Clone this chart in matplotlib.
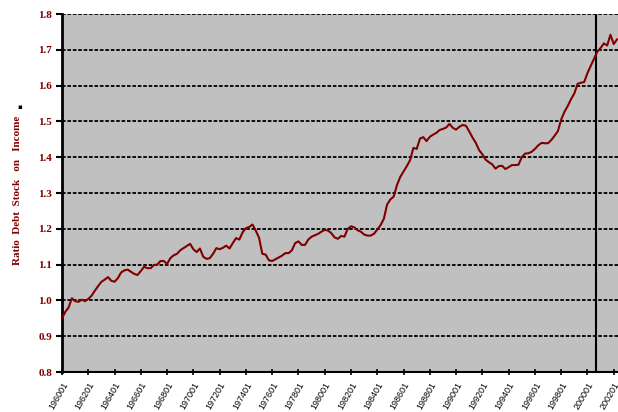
import numpy as np
import matplotlib
matplotlib.use("Agg")
import matplotlib.pyplot as plt

# quarterly ratio, 1960Q1 .. 2002Q2
ratio = [
    0.950, 0.968, 0.980, 1.006,   # 1960
    0.998, 0.996, 1.002, 0.998,   # 1961
    1.004, 1.013, 1.027, 1.040,   # 1962
    1.052, 1.058, 1.065, 1.055,   # 1963
    1.052, 1.062, 1.078, 1.084,   # 1964
    1.086, 1.080, 1.074, 1.071,   # 1965
    1.082, 1.094, 1.090, 1.090,   # 1966
    1.099, 1.100, 1.110, 1.110,   # 1967
    1.102, 1.118, 1.126, 1.130,   # 1968
    1.140, 1.146, 1.152, 1.158,   # 1969
    1.143, 1.135, 1.145, 1.122,   # 1970
    1.116, 1.118, 1.130, 1.146,   # 1971
    1.143, 1.147, 1.153, 1.145,   # 1972
    1.160, 1.174, 1.170, 1.190,   # 1973
    1.202, 1.205, 1.212, 1.195,   # 1974
    1.175, 1.130, 1.128, 1.112,   # 1975
    1.110, 1.115, 1.120, 1.125,   # 1976
    1.132, 1.132, 1.140, 1.160,   # 1977
    1.165, 1.155, 1.155, 1.170,   # 1978
    1.178, 1.182, 1.186, 1.192,   # 1979
    1.197, 1.195, 1.188, 1.176,   # 1980
    1.172, 1.180, 1.178, 1.200,   # 1981
    1.207, 1.204, 1.196, 1.192,   # 1982
    1.184, 1.181, 1.181, 1.186,   # 1983
    1.198, 1.210, 1.228, 1.268,   # 1984
    1.282, 1.290, 1.322, 1.345,   # 1985
    1.360, 1.375, 1.392, 1.426,   # 1986
    1.423, 1.452, 1.456, 1.445,   # 1987
    1.457, 1.463, 1.468, 1.476,   # 1988
    1.479, 1.483, 1.493, 1.482,   # 1989
    1.477, 1.485, 1.490, 1.488,   # 1990
    1.472, 1.455, 1.440, 1.420,   # 1991
    1.408, 1.393, 1.386, 1.380,   # 1992
    1.368, 1.375, 1.376, 1.367,   # 1993
    1.372, 1.378, 1.378, 1.379,   # 1994
    1.400, 1.410, 1.411, 1.415,   # 1995
    1.423, 1.433, 1.440, 1.439,   # 1996
    1.439, 1.448, 1.460, 1.473,   # 1997
    1.505, 1.527, 1.543, 1.562,   # 1998
    1.578, 1.605, 1.608, 1.610,   # 1999
    1.635, 1.655, 1.675, 1.695,   # 2000
    1.705, 1.718, 1.712, 1.742,   # 2001
    1.716, 1.729,                 # 2002
]
years = list(range(1960, 2003, 2))
tick_labels = [f"{y}01" for y in years]
break_q = 162.6   # vertical marker, late 2000

red = "#800000"
x = np.arange(len(ratio))

fig = plt.figure(figsize=(6.18, 4.12), dpi=100)
ax = fig.add_axes([62/618, 1 - 372/412, 1 - 62/618, (372 - 14)/412])
ax.set_facecolor("#C0C0C0")

for v in np.arange(0.9, 1.81, 0.1):
    ax.axhline(v, color="black", lw=1.3, ls=(0, (2, 1)), zorder=1)
ax.axvline(break_q, color="black", lw=1.5, zorder=2)
ax.plot(x, ratio, color=red, lw=1.5, zorder=3)

ax.set_xlim(0, 169.3)
ax.set_ylim(0.8, 1.8)
ax.set_yticks(np.arange(0.8, 1.81, 0.1))
ax.set_yticklabels([f"{v:.1f}" for v in np.arange(0.8, 1.81, 0.1)],
                   fontfamily="Liberation Serif", fontweight="bold",
                   color=red, fontsize=8)
ax.set_xticks([(y - 1960) * 4 for y in years])
ax.set_xticklabels(tick_labels, rotation=60, ha="right",
                   rotation_mode="anchor", fontsize=6.5,
                   fontfamily="Liberation Sans")
ax.tick_params(axis="y", direction="out", length=4, width=1.5, pad=3)
ax.tick_params(axis="x", direction="inout", length=4, width=1.2, pad=4)

for s in ["top", "right"]:
    ax.spines[s].set_visible(False)
ax.spines["left"].set_linewidth(2)
ax.spines["bottom"].set_linewidth(1.5)

fig.text(18/618, 1 - 190/412, "Ratio  Debt  Stock   on   Income",
         rotation=90, ha="center", va="center", color=red,
         fontfamily="Liberation Serif", fontweight="bold", fontsize=8)
fig.text(20/618, 1 - 107/412, "\u25aa", ha="center", va="center",
         color="black", fontsize=5)

fig.savefig("out.png", dpi=100)
